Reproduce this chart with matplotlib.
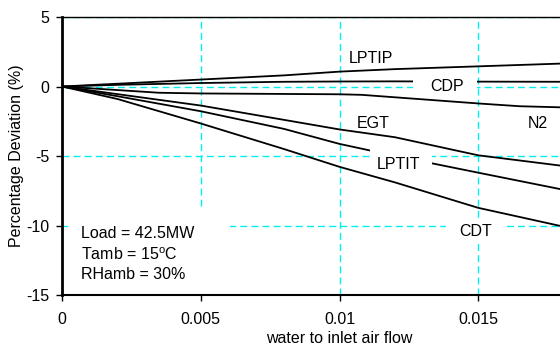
import matplotlib
matplotlib.use("Agg")
import matplotlib.pyplot as plt
from matplotlib.patches import Rectangle

plt.rcParams['font.family'] = ['Liberation Sans', 'DejaVu Sans']
plt.rcParams['axes.unicode_minus'] = False

x_vals = [0.0, 0.002, 0.005, 0.008, 0.010, 0.012, 0.015, 0.018, 0.020]
lptip = [0.0, 0.20, 0.50, 0.80, 1.07, 1.25, 1.45, 1.65, 1.75]
cdp = [0.0, 0.12, 0.25, 0.34, 0.36, 0.37, 0.35, 0.34, 0.34]
n2_x = [0.0, 0.0035, 0.005, 0.010, 0.0108, 0.015, 0.0165, 0.018, 0.020]
n2 = [0.0, -0.45, -0.50, -0.56, -0.60, -1.22, -1.42, -1.50, -1.60]
egt = [0.0, -0.55, -1.37, -2.40, -3.09, -3.65, -4.95, -5.70, -6.20]
lptit = [0.0, -0.70, -1.78, -3.05, -4.13, -4.99, -6.20, -7.40, -8.20]
cdt = [0.0, -0.90, -2.66, -4.50, -5.78, -6.90, -8.73, -10.05, -11.00]

labels = ["LPTIP", "CDP", "EGT", "N2", "LPTIT", "CDT"]
label_pos = [(0.01113, 2.05), (0.01387, 0.02), (0.01123, -2.65),
             (0.01715, -2.65), (0.01213, -5.60), (0.01492, -10.40)]

xticks = [0, 0.005, 0.01, 0.015]
xticklabels = ["0", "0.005", "0.01", "0.015"]
yticks = [-15, -10, -5, 0, 5]

FS = 11.5

fig = plt.figure(figsize=(5.6, 3.47), dpi=100)
ax = fig.add_axes([62/560, 52/347, 555/560, 278/347])

ax.plot(x_vals, lptip, color='black', lw=1.3, zorder=2)
ax.plot(x_vals, cdp, color='black', lw=1.3, zorder=2)
ax.plot(n2_x, n2, color='black', lw=1.3, zorder=2)
ax.plot(x_vals, egt, color='black', lw=1.3, zorder=2)
ax.plot(x_vals, lptit, color='black', lw=1.3, zorder=2)
ax.plot(x_vals, cdt, color='black', lw=1.3, zorder=2)

ax.set_xlim(0, 0.02)
ax.set_ylim(-15, 5)
ax.set_xticks(xticks)
ax.set_xticklabels(xticklabels)
ax.set_yticks(yticks)
ax.grid(True, color='#00f0f0', linestyle=(0, (5, 3)), linewidth=1.0)

# white masks (label backgrounds)
masks = [
    (0.01264, -0.35, 0.00231, 0.95),   # CDP
    (0.01110, -5.76, 0.00223, 1.23),   # LPTIT
    (0.01383, -11.10, 0.00220, 1.60),  # CDT
    (0.00020, -14.95, 0.00585, 6.05),  # annotation
]
for mx, my, mw, mh in masks:
    ax.add_patch(Rectangle((mx, my), mw, mh, facecolor='white',
                           edgecolor='none', zorder=2.5))

for lab, (lx, ly) in zip(labels, label_pos):
    ax.text(lx, ly, lab, ha='center', va='center', fontsize=FS, zorder=3)

ax.text(0.00068, -10.55, "Load = 42.5MW", ha='left', va='center', fontsize=FS, zorder=3)
ax.text(0.00068, -12.1, "Tamb = 15$^{\\mathregular{o}}$C", ha='left', va='center', fontsize=FS, zorder=3)
ax.text(0.00068, -13.5, "RHamb = 30%", ha='left', va='center', fontsize=FS, zorder=3)

ax.spines['left'].set_linewidth(2.0)
ax.spines['bottom'].set_linewidth(1.5)
ax.spines['top'].set_linewidth(1.0)
ax.spines['right'].set_visible(False)
ax.tick_params(axis='both', direction='out', length=4, width=1, labelsize=FS)
ax.tick_params(axis='x', pad=8)
ax.tick_params(axis='y', pad=5)

ax.set_xlabel("water to inlet air flow", fontsize=FS, labelpad=3)
ax.set_ylabel("Percentage Deviation (%)", fontsize=FS, labelpad=2)

fig.savefig("out.png", dpi=100)
